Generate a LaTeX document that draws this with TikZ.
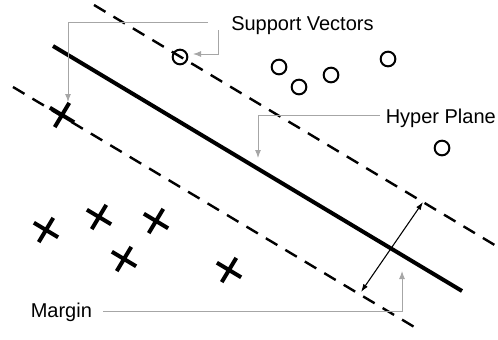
\documentclass[tikz,border=0pt]{standalone}
\usepackage{fontspec}
\setmainfont{Liberation Sans}
\usetikzlibrary{shapes.misc, arrows.meta}
\tikzset{every node/.style={font=\fontsize{15}{18}\selectfont}, % Size of all labels
sample o/.style={ % Samples of the first class
circle, draw, line width=1.5pt, minimum size=11pt, inner sep=0pt},
sample x/.style={ % Samples of the second class
cross out, draw, line width=3pt, minimum size=12pt, inner sep=0pt, rotate=14},
label text/.style={anchor=base west, inner sep=0pt},
leader/.style={ % Grey pointers from the labels
draw, gray!70, line width=0.75pt, -{Latex[length=6pt,width=4.5pt]}},
margin line/.style={draw, line width=1.8pt, dash pattern=on 10pt off 7pt}}
\begin{document}
\begin{tikzpicture}[x=0.75pt, y=-0.75pt]
    \useasboundingbox (0,0) rectangle (498,339);

    \coordinate (hp1) at (53,46);
    \coordinate (hp2) at (462,291);
    \coordinate (up1) at (94,5);
    \coordinate (up2) at (498,247);
    \coordinate (lo1) at (13,87);
    \coordinate (lo2) at (421,331);

    \draw[margin line] (up1) -- (up2);
    \draw[margin line] (lo1) -- (lo2);
    \draw[line width=3pt] (hp1) -- (hp2);

    \node[sample o] (o1) at (180,57) {};
    \node[sample o] (o2) at (279,67) {};
    \node[sample o] (o3) at (299,87) {};
    \node[sample o] (o4) at (331,75) {};
    \node[sample o] (o5) at (388,59) {};
    \node[sample o] (o6) at (442,148) {};

    \node[sample x] (x1) at (62,115) {};
    \node[sample x] (x2) at (46,230) {};
    \node[sample x] (x3) at (99,217) {};
    \node[sample x] (x4) at (156,221) {};
    \node[sample x] (x5) at (124,259) {};
    \node[sample x] (x6) at (229,270) {};

    \node[label text] (sv) at (231,30) {Support Vectors};
    \node[label text] (hp) at (385.5,123) {Hyper Plane};
    \node[label text] (mg) at (30.5,317) {Margin};

    \coordinate (sv a) at (208,22);
    \coordinate (sv b) at (218,30);
    \coordinate (x1 tip) at (68,102);
    \coordinate (o1 tip) at (193,54);
    \coordinate (hp a) at (380,115);
    \coordinate (hp tip) at (258,158);
    \coordinate (mg a) at (103,311);
    \coordinate (mg tip) at (402,271);
    \coordinate (w1) at (361,292);
    \coordinate (w2) at (423,202);

    \draw[leader] (sv a) -| (x1 tip);
    \draw[leader] (sv b) |- (o1 tip);
    \draw[leader] (hp a) -| (hp tip);
    \draw[leader] (mg a) -| (mg tip);

    \draw[{Latex[length=6pt,width=4pt]}-{Latex[length=6pt,width=4pt]}, line width=0.8pt] (w1) -- (w2);

\end{tikzpicture}
\end{document}
